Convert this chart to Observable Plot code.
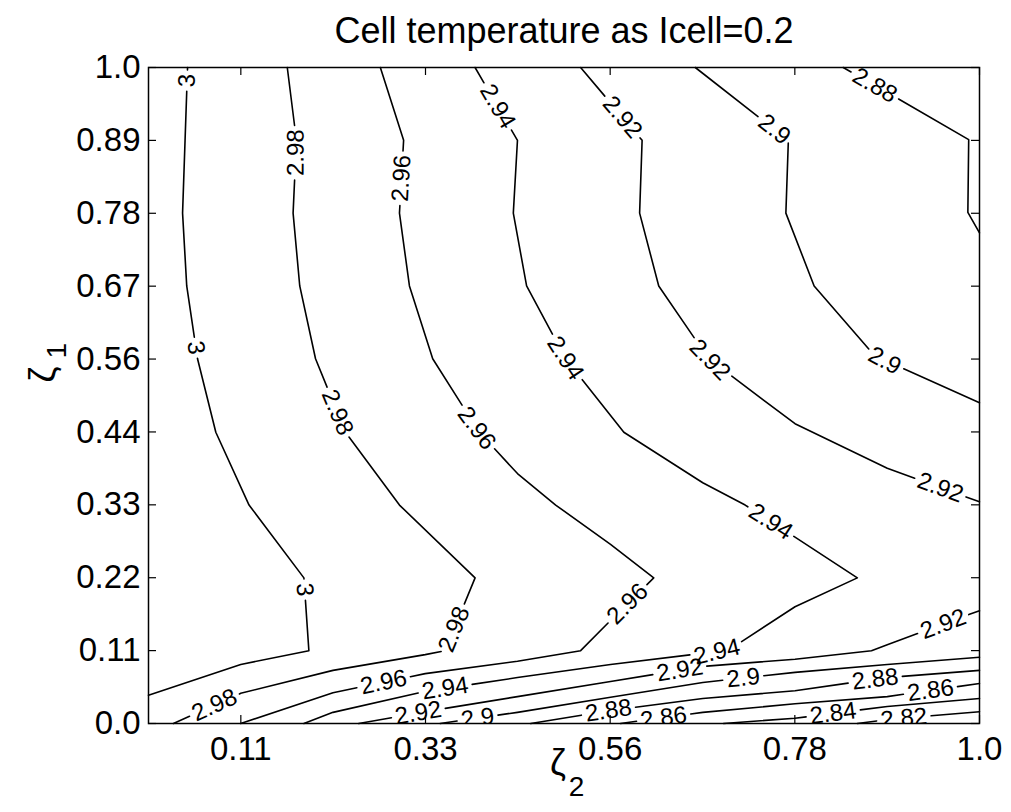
<!DOCTYPE html>
<html>
<head>
<meta charset="utf-8">
<script src="https://cdn.jsdelivr.net/npm/d3@7"></script>
<script src="https://cdn.jsdelivr.net/npm/@observablehq/plot@0.6"></script>
<style>
  html, body { margin: 0; padding: 0; background: #fff; }
  #chart svg { display: block; }
</style>
</head>
<body>
<div id="chart"></div>
<script>
// ---------------- data ----------------
const title = "Cell temperature as Icell=0.2";
const xLabelParts = ["ζ", "2"];
const yLabelParts = ["ζ", "1"];
const xTickValues = [1/9, 3/9, 5/9, 7/9, 1];
const xTickLabels = ["0.11", "0.33", "0.56", "0.78", "1.0"];
const yTickValues = [0, 1/9, 2/9, 3/9, 4/9, 5/9, 6/9, 7/9, 8/9, 1];
const yTickLabels = ["0.0", "0.11", "0.22", "0.33", "0.44", "0.56", "0.67", "0.78", "0.89", "1.0"];

// contour lines, [zeta2, zeta1] points
const c300 = [[0.047,1],[0.044,0.889],[0.041,0.778],[0.046,0.667],[0.059,0.556],[0.081,0.444],[0.121,0.333],[0.187,0.222],[0.193,0.111],[0.111,0.090],[0,0.043]];
const c298 = [[0.167,1],[0.178,0.889],[0.174,0.778],[0.182,0.667],[0.201,0.556],[0.237,0.444],[0.302,0.333],[0.393,0.222],[0.357,0.111],[0.333,0.105],[0.222,0.081],[0.111,0.046],[0.030,0]];
const c296 = [[0.279,1],[0.307,0.889],[0.302,0.778],[0.314,0.667],[0.342,0.556],[0.398,0.444],[0.444,0.381],[0.490,0.333],[0.556,0.273],[0.608,0.222],[0.556,0.157],[0.520,0.111],[0.444,0.095],[0.333,0.076],[0.222,0.047],[0.111,0]];
const c294 = [[0.393,1],[0.444,0.889],[0.439,0.778],[0.455,0.667],[0.502,0.556],[0.572,0.444],[0.667,0.367],[0.718,0.333],[0.778,0.284],[0.853,0.222],[0.778,0.178],[0.697,0.111],[0.667,0.107],[0.556,0.090],[0.444,0.070],[0.333,0.049],[0.222,0.017],[0.187,0]];
const c292a = [[0.520,1],[0.594,0.889],[0.591,0.778],[0.614,0.667],[0.674,0.556],[0.778,0.457],[0.889,0.389],[1,0.338]];
const c292b = [[0.253,0],[0.333,0.018],[0.444,0.041],[0.556,0.064],[0.667,0.087],[0.778,0.098],[0.870,0.111],[0.889,0.120],[1,0.172]];
const c290a = [[0.658,1],[0.770,0.889],[0.767,0.778],[0.801,0.667],[0.877,0.556],[0.889,0.552],[1,0.489]];
const c290b = [[0.351,0],[0.444,0.017],[0.556,0.040],[0.667,0.0625],[0.778,0.078],[0.889,0.090],[1,0.101]];
const c288a = [[0.836,1],[0.889,0.962],[0.987,0.890],[0.986,0.779],[1,0.748]];
const c288b = [[0.460,0],[0.556,0.020],[0.667,0.038],[0.778,0.050],[0.889,0.070],[1,0.081]];
const c286 = [[0.568,0],[0.667,0.017],[0.778,0.030],[0.889,0.041],[1,0.061]];
const c284 = [[0.692,0],[0.778,0.008],[0.889,0.026],[1,0.038]];
const c282 = [[0.853,0],[0.889,0.006],[1,0.018]];

const contours = [
  {level: 3, points: c300}, {level: 2.98, points: c298}, {level: 2.96, points: c296},
  {level: 2.94, points: c294}, {level: 2.92, points: c292a}, {level: 2.92, points: c292b},
  {level: 2.9, points: c290a}, {level: 2.9, points: c290b}, {level: 2.88, points: c288a},
  {level: 2.88, points: c288b}, {level: 2.86, points: c286}, {level: 2.84, points: c284},
  {level: 2.82, points: c282}
];

// contour labels: [level, zeta2, zeta1]
const contourLabels = [
  [3,0.048,0.980],[3,0.053,0.572],[3,0.188,0.204],
  [2.98,0.179,0.870],[2.98,0.225,0.473],[2.98,0.371,0.142],[2.98,0.078,0.032],
  [2.96,0.307,0.831],[2.96,0.391,0.447],[2.96,0.576,0.183],[2.96,0.283,0.0625],
  [2.94,0.418,0.939],[2.94,0.496,0.553],[2.94,0.748,0.306],[2.94,0.684,0.111],[2.94,0.357,0.053],
  [2.92,0.568,0.922],[2.92,0.673,0.550],[2.92,0.953,0.360],[2.92,0.957,0.149],[2.92,0.640,0.076],[2.92,0.325,0.014],
  [2.9,0.752,0.904],[2.9,0.887,0.558],[2.9,0.716,0.066],[2.9,0.396,0.008],
  [2.88,0.872,0.968],[2.88,0.875,0.0625],[2.88,0.554,0.015],
  [2.86,0.941,0.050],[2.86,0.620,0.008],
  [2.84,0.824,0.015],
  [2.82,0.909,0.008]
];

// ---------------- layout ----------------
const W = 1011, H = 812;
const M = {top: 67, right: 32, bottom: 89, left: 148};
const plotW = W - M.left - M.right, plotH = H - M.top - M.bottom;
const sx = d3.scaleLinear([0, 1], [M.left, W - M.right]);
const sy = d3.scaleLinear([0, 1], [H - M.bottom, M.top]);
const labelFont = 24;
const tickLen = 8;
const charW = c => (c === "." ? 0.278 : 0.556);

// ---------------- contour label placement (MATLAB clabel-like gaps) ----------------
const lines = contours.map(c => {
  const P = c.points.map(([x, y]) => [sx(x), sy(y)]);
  const S = [0];
  for (let i = 1; i < P.length; i++) S.push(S[i - 1] + Math.hypot(P[i][0] - P[i - 1][0], P[i][1] - P[i - 1][1]));
  return {level: c.level, P, S, gaps: []};
});
function at(L, t) {
  const total = L.S[L.S.length - 1];
  t = Math.max(0, Math.min(total, t));
  for (let i = 1; i < L.P.length; i++) {
    if (t <= L.S[i] || i === L.P.length - 1) {
      const seg = L.S[i] - L.S[i - 1];
      const u = seg > 0 ? (t - L.S[i - 1]) / seg : 0;
      return [L.P[i - 1][0] + u * (L.P[i][0] - L.P[i - 1][0]), L.P[i - 1][1] + u * (L.P[i][1] - L.P[i - 1][1])];
    }
  }
  return L.P[L.P.length - 1];
}
function project(L, q) {
  let best = {d: Infinity, s: 0};
  for (let i = 1; i < L.P.length; i++) {
    const a = L.P[i - 1], b = L.P[i];
    const dx = b[0] - a[0], dy = b[1] - a[1], len2 = dx * dx + dy * dy;
    let u = len2 > 0 ? ((q[0] - a[0]) * dx + (q[1] - a[1]) * dy) / len2 : 0;
    u = Math.max(0, Math.min(1, u));
    const p = [a[0] + u * dx, a[1] + u * dy];
    const d = Math.hypot(p[0] - q[0], p[1] - q[1]);
    if (d < best.d) best = {d, s: L.S[i - 1] + u * Math.sqrt(len2)};
  }
  return best;
}
const labelRows = contourLabels.map(([level, x, y]) => {
  const text = String(level);
  const w = [...text].reduce((s, c) => s + charW(c), 0) * labelFont;
  const q = [sx(x), sy(y)];
  let bestL = null, best = {d: Infinity};
  for (const L of lines) if (L.level === level) {
    const r = project(L, q);
    if (r.d < best.d) { best = r; bestL = L; }
  }
  const s = best.s;
  bestL.gaps.push([s - w / 2 - 4, s + w / 2 + 4]);
  const p0 = at(bestL, s - w / 2), p1 = at(bestL, s + w / 2);
  let ang = Math.atan2(p1[1] - p0[1], p1[0] - p0[0]) * 180 / Math.PI;
  if (ang > 90) ang -= 180; else if (ang <= -90) ang += 180;
  const c = at(bestL, s);
  return {x: sx.invert(c[0]), y: sy.invert(c[1]), text, angle: ang};
});
const lineRows = [];
let pieceId = 0;
for (const L of lines) {
  const total = L.S[L.S.length - 1];
  const gaps = L.gaps.slice().sort((a, b) => a[0] - b[0]);
  const keep = [];
  let start = 0;
  for (const [g0, g1] of gaps) {
    if (g0 > start) keep.push([start, Math.min(g0, total)]);
    start = Math.max(start, g1);
  }
  if (start < total) keep.push([start, total]);
  for (const [a, b] of keep) {
    if (b - a < 0.5) continue;
    const pts = [at(L, a)];
    for (let i = 0; i < L.P.length; i++) if (L.S[i] > a && L.S[i] < b) pts.push(L.P[i]);
    pts.push(at(L, b));
    for (const p of pts) lineRows.push({x: sx.invert(p[0]), y: sy.invert(p[1]), id: pieceId});
    pieceId++;
  }
}

const fmt = (values, labels) => d => {
  let bi = 0, bd = Infinity;
  values.forEach((v, i) => { const dd = Math.abs(v - d); if (dd < bd) { bd = dd; bi = i; } });
  return labels[bi];
};

// ---------------- plot ----------------
const chart = Plot.plot({
  width: W, height: H,
  marginTop: M.top, marginRight: M.right, marginBottom: M.bottom, marginLeft: M.left,
  style: {fontFamily: "'Liberation Sans', Arial, Helvetica, sans-serif", fontSize: "33px", background: "#fff", color: "#000", overflow: "visible"},
  x: {domain: [0, 1]},
  y: {domain: [0, 1]},
  marks: [
    Plot.line(lineRows, {x: "x", y: "y", z: "id", stroke: "#000", strokeWidth: 1.6}),
    Plot.text(labelRows, {x: "x", y: "y", text: "text", rotate: "angle", fontSize: labelFont, fill: "#000", clip: true}),
    Plot.frame({stroke: "#000", strokeWidth: 1.5}),
    Plot.ruleX(xTickValues, {insetTop: plotH - tickLen, stroke: "#000", strokeWidth: 1.2}),
    Plot.ruleX(xTickValues, {insetBottom: plotH - tickLen, stroke: "#000", strokeWidth: 1.2}),
    Plot.ruleY(yTickValues, {insetRight: plotW - tickLen, stroke: "#000", strokeWidth: 1.2}),
    Plot.ruleY(yTickValues, {insetLeft: plotW - tickLen, stroke: "#000", strokeWidth: 1.2}),
    Plot.axisX({ticks: xTickValues, tickFormat: fmt(xTickValues, xTickLabels), tickSize: 0, tickPadding: 13, label: null, fontSize: 33}),
    Plot.axisY({ticks: yTickValues, tickFormat: fmt(yTickValues, yTickLabels), tickSize: 0, tickPadding: 8, label: null, fontSize: 33}),
    Plot.text([title], {text: d => d, frameAnchor: "top", lineAnchor: "bottom", dy: -25, fontSize: 36}),
    Plot.text([xLabelParts[0]], {text: d => d, frameAnchor: "bottom", dx: -6, dy: 51, fontSize: 36}),
    Plot.text([xLabelParts[1]], {text: d => d, frameAnchor: "bottom", dx: 12.5, dy: 72, fontSize: 28}),
    Plot.text([yLabelParts[0]], {text: d => d, frameAnchor: "left", rotate: -90, dx: -105, dy: -13, fontSize: 36}),
    Plot.text([yLabelParts[1]], {text: d => d, frameAnchor: "left", rotate: -90, dx: -91, dy: -37, fontSize: 28})
  ]
});
document.getElementById("chart").appendChild(chart);
</script>
</body>
</html>
